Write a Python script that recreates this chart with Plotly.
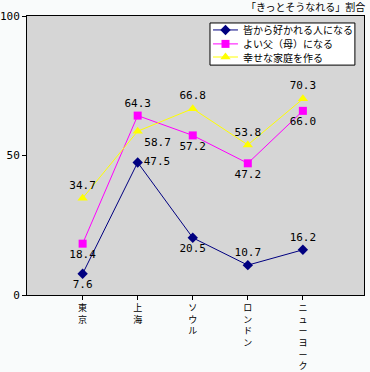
import plotly.graph_objects as go

categories = ["東京", "上海", "ソウル", "ロンドン", "ニューヨーク"]
series_names = ["皆から好かれる人になる", "よい父（母）になる", "幸せな家庭を作る"]
liked = [7.6, 47.5, 20.5, 10.7, 16.2]
parent = [18.4, 64.3, 57.2, 47.2, 66.0]
family = [34.7, 58.7, 66.8, 53.8, 70.3]
y_ticks = [0, 50, 100]
title_text = "「きっとそうなれる」割合"

liked_pos = ["bottom center", "middle right", "bottom center", "top center", "top center"]
parent_pos = ["bottom center", "top center", "bottom center", "bottom center", "bottom center"]
family_pos = ["top center", "bottom right", "top center", "top center", "top center"]

FONT = "Noto Sans CJK JP"
x_idx = list(range(len(categories)))

fig = go.Figure()
specs = [
    (liked, series_names[0], "#000080", "diamond", 8, liked_pos),
    (parent, series_names[1], "#ff00ff", "square", 8, parent_pos),
    (family, series_names[2], "#ffff00", "triangle-up", 9, family_pos),
]
for vals, name, color, sym, size, pos in specs:
    fig.add_trace(go.Scatter(
        x=x_idx, y=vals, name=name, mode="lines+markers+text",
        line=dict(color=color, width=1),
        marker=dict(color=color, symbol=sym, size=size),
        text=[f"{v:.1f}" for v in vals], textposition=pos,
        textfont=dict(family="DejaVu Sans Mono", size=11, color="black"),
        cliponaxis=False, showlegend=False,
    ))

# compact legend drawn on an overlay axis spanning the plot area (0..1 both ways)
LX0, LX1, LY0, LY1 = 0.543, 0.973, 0.824, 0.975
fig.add_trace(go.Scatter(
    x=[LX0, LX1, LX1, LX0, LX0], y=[LY0, LY0, LY1, LY1, LY0],
    xaxis="x2", yaxis="y2", mode="lines", fill="toself", fillcolor="white",
    line=dict(color="black", width=1), hoverinfo="skip", showlegend=False,
))
row_y = [0.950, 0.900, 0.853]
annotations = [dict(text=title_text, xref="paper", yref="paper", x=1.01, y=1.0,
                    xanchor="right", yanchor="bottom", showarrow=False,
                    font=dict(family=FONT, size=10, color="black"))]
for (vals, name, color, sym, size, pos), ry in zip(specs, row_y):
    fig.add_trace(go.Scatter(
        x=[0.552, 0.626], y=[ry, ry], xaxis="x2", yaxis="y2", mode="lines",
        line=dict(color=color, width=1), hoverinfo="skip", showlegend=False))
    fig.add_trace(go.Scatter(
        x=[0.589], y=[ry], xaxis="x2", yaxis="y2", mode="markers",
        marker=dict(color=color, symbol=sym, size=size), hoverinfo="skip",
        showlegend=False))
    annotations.append(dict(text=name, xref="paper", yref="paper", x=0.636, y=ry,
                            xanchor="left", yanchor="middle", showarrow=False,
                            font=dict(family=FONT, size=10, color="black")))

fig.update_layout(
    width=370, height=372,
    margin=dict(l=27, r=6, t=16, b=77, autoexpand=False),
    paper_bgcolor="#f9fbfb", plot_bgcolor="#d6d6d6",
    showlegend=False,
    xaxis=dict(range=[-1.01, 5.11], tickmode="array", tickvals=x_idx,
               ticktext=["<br>".join(c) for c in categories],
               ticks="outside", ticklen=4, tickcolor="black", automargin=False,
               showgrid=False, zeroline=False, showline=True, linecolor="black",
               linewidth=1, mirror=True,
               tickfont=dict(family=FONT, size=9, color="black")),
    yaxis=dict(range=[0, 100], tickvals=y_ticks, ticks="outside", ticklen=4,
               tickcolor="black", showgrid=False, zeroline=False, showline=True,
               linecolor="black", linewidth=1, mirror=True, automargin=False,
               tickfont=dict(family="DejaVu Sans Mono", size=11, color="black")),
    xaxis2=dict(overlaying="x", range=[0, 1], visible=False, fixedrange=True),
    yaxis2=dict(overlaying="y", range=[0, 1], visible=False, fixedrange=True),
    annotations=annotations,
)
fig.write_html("out.html", config={"displayModeBar": False},
               post_script="document.body.style.margin='0';document.body.style.padding='0';document.body.style.background='#f9fbfb';")
